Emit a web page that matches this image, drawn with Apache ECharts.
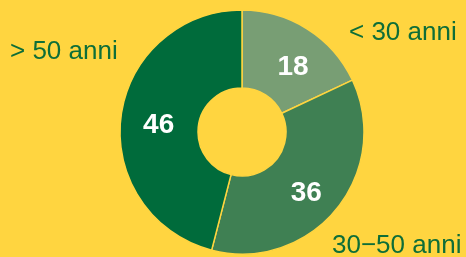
<!DOCTYPE html>
<html>
<head>
<meta charset="utf-8">
<script src="https://cdn.jsdelivr.net/npm/echarts@6/dist/echarts.min.js"></script>
<style>
  html, body { margin: 0; padding: 0; background: #FFD540; }
  #main { width: 466px; height: 257px; }
</style>
</head>
<body>
<div id="main"></div>
<script>
// fasce d'età e valori (%)
var categories = ["< 30 anni", "30\u221250 anni", "> 50 anni"];
var values = [18, 36, 46];
var colors = ["#789E74", "#3F8053", "#006B3B"];

// posizione delle etichette di categoria (x sinistra, y centro)
var namePos = [[349, 33], [332, 246], [10, 52]];
// spostamento delle etichette numeriche
var numShift = [[5, 8], [-2, 6], [2, 4]];

var myChart = echarts.init(document.getElementById("main"));

var option = {
    backgroundColor: "#FFD540",
    animation: false,
    series: [{
        type: "pie",
        center: [242, 132],
        radius: [44, 122],
        startAngle: 90,
        clockwise: true,
        avoidLabelOverlap: false,
        itemStyle: {
            borderColor: "#FFD540",
            borderWidth: 1.5
        },
        label: {
            show: true,
            position: "inside",
            formatter: "{c}",
            color: "#ffffff",
            fontSize: 28,
            fontWeight: "bold",
            fontFamily: "Liberation Sans, Arial, sans-serif"
        },
        labelLine: { show: false },
        labelLayout: function (params) {
            var s = numShift[params.dataIndex];
            return { dx: s[0], dy: s[1] };
        },
        emphasis: { disabled: true },
        data: categories.map(function (name, i) {
            return { name: name, value: values[i], itemStyle: { color: colors[i] } };
        })
    }],
    graphic: categories.map(function (name, i) {
        return {
            type: "text",
            x: namePos[i][0],
            y: namePos[i][1],
            style: {
                text: name,
                fill: "#0E6E38",
                font: "26px 'Liberation Sans', Arial, sans-serif",
                verticalAlign: "middle",
                align: "left"
            }
        };
    })
};

myChart.setOption(option);
</script>
</body>
</html>
